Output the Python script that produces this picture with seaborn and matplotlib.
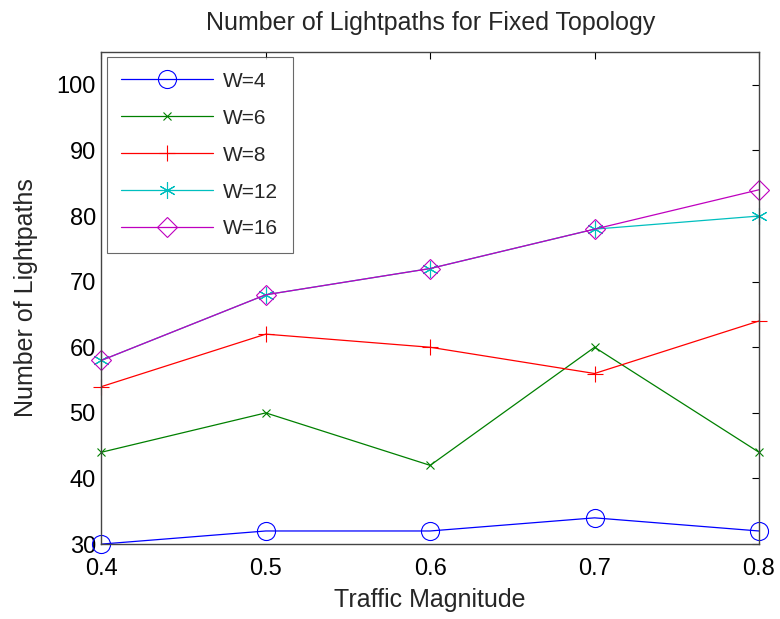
import matplotlib
matplotlib.use("Agg")
import matplotlib.pyplot as plt
import seaborn as sns
import pandas as pd

traffic = [0.4, 0.5, 0.6, 0.7, 0.8]
labels = ["W=4", "W=6", "W=8", "W=12", "W=16"]
w4 = [30, 32, 32, 34, 32]
w6 = [44, 50, 42, 60, 44]
w8 = [54, 62, 60, 56, 64]
w12 = [58, 68, 72, 78, 80]
w16 = [58, 68, 72, 78, 84]
series = [w4, w6, w8, w12, w16]

colors = [(0, 0, 1), (0, 0.5, 0), (1, 0, 0), (0, 0.75, 0.75), (0.75, 0, 0.75)]
markers = ["o", "x", "+", (6, 2, 0), "D"]
msizes = [13, 6, 12, 12, 10]

sns.set_style("white")
plt.rcParams["font.family"] = ["Liberation Sans", "DejaVu Sans"]

fig = plt.figure(figsize=(7.8, 6.19), dpi=100)
ax = fig.add_axes([0.130, 0.121, 0.843, 0.795])

for lab, vals, c, m, ms in zip(labels, series, colors, markers, msizes):
    df = pd.DataFrame({"x": traffic, "y": vals})
    sns.lineplot(data=df, x="x", y="y", ax=ax, color=c, marker=m, markersize=ms,
                 markerfacecolor="none", markeredgecolor=c, markeredgewidth=0.8,
                 linewidth=0.9, label=lab, clip_on=False)

ax.set_xlim(0.4, 0.8)
ax.set_ylim(30, 105)
ax.set_xticks(traffic)
ax.set_xticklabels(["0.4", "0.5", "0.6", "0.7", "0.8"])
ax.set_yticks([30, 40, 50, 60, 70, 80, 90, 100])
ax.tick_params(direction="in", length=5, width=0.8, top=True, right=True,
               labelsize=17, colors="black")
ax.tick_params(axis="x", pad=10)
ax.tick_params(axis="y", pad=4)
for s in ax.spines.values():
    s.set_color("#444444")
    s.set_linewidth(1.0)
ax.set_xlabel("Traffic Magnitude", fontsize=18, labelpad=6)
ax.set_ylabel("Number of Lightpaths", fontsize=18, labelpad=13)
ax.set_title("Number of Lightpaths for Fixed Topology", fontsize=18, pad=16)

leg = ax.legend(loc="upper left", fontsize=15, frameon=True, fancybox=False,
                edgecolor="#444444", borderpad=0.7, labelspacing=0.86,
                handlelength=4.4, handletextpad=0.5, borderaxespad=0.25)
leg.get_frame().set_linewidth(0.8)

fig.savefig("out.png", dpi=100)
